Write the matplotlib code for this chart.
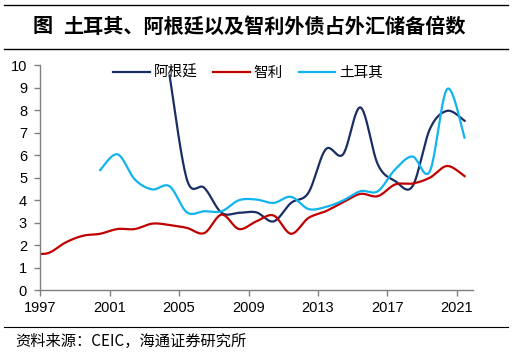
import numpy as np
import matplotlib.pyplot as plt

plt.rcParams['font.family'] = ['Liberation Sans', 'Noto Sans CJK SC', 'DejaVu Sans']

# annual data, plotted a little after the year tick
years_chile = list(range(1996, 2022))
chile = [1.65, 1.66, 2.13, 2.43, 2.52, 2.73, 2.73, 2.97, 2.91, 2.78, 2.55, 3.37, 2.73,
         3.07, 3.33, 2.52, 3.22, 3.52, 3.92, 4.29, 4.19, 4.71, 4.75, 5.01, 5.53, 5.08]

years_turkey = list(range(2000, 2022))
turkey = [5.35, 6.05, 4.93, 4.49, 4.63, 3.47, 3.52, 3.52, 4.01, 4.04, 3.89, 4.16,
          3.62, 3.71, 4.00, 4.41, 4.41, 5.38, 5.95, 5.30, 8.95, 6.79]

years_arg = list(range(2004, 2022))
argentina = [9.55, 4.93, 4.56, 3.45, 3.45, 3.47, 3.07, 3.89, 4.34, 6.27, 6.05, 8.13,
             5.60, 4.86, 4.63, 7.17, 7.98, 7.54]

xticks = list(range(1997, 2022, 4))
offset = 0.45


def smooth(xs, ys, n=24):
    # bezier smoothing through the points, like excel's smoothed line
    xs = np.asarray(xs, float)
    ys = np.asarray(ys, float)
    px, py = [], []
    for i in range(len(xs) - 1):
        i0 = max(i - 1, 0)
        i3 = min(i + 2, len(xs) - 1)
        c1x = xs[i] + (xs[i + 1] - xs[i0]) / 6
        c1y = ys[i] + (ys[i + 1] - ys[i0]) / 6
        c2x = xs[i + 1] - (xs[i3] - xs[i]) / 6
        c2y = ys[i + 1] - (ys[i3] - ys[i]) / 6
        t = np.linspace(0, 1, n)
        a, b, c, d = (1 - t) ** 3, 3 * (1 - t) ** 2 * t, 3 * (1 - t) * t ** 2, t ** 3
        px.extend(a * xs[i] + b * c1x + c * c2x + d * xs[i + 1])
        py.extend(a * ys[i] + b * c1y + c * c2y + d * ys[i + 1])
    return px, py


fig = plt.figure(figsize=(5.28, 3.61), dpi=100)
ax = fig.add_axes([0.0763, 0.1953, 0.8190, 0.6237])

series = [(years_arg, argentina, '#1B2E63', '阿根廷'),
          (years_chile, chile, '#C00000', '智利'),
          (years_turkey, turkey, '#12B4EE', '土耳其')]
for yrs, vals, col, name in series:
    sx, sy = smooth(np.array(yrs) + offset, vals)
    ax.plot(sx, sy, color=col, lw=1.6, label=name)

ax.set_xlim(1997, 2021.92)
ax.set_ylim(0, 10)
ax.set_xticks(xticks)
ax.set_yticks(range(0, 11))
for s in ['top', 'right']:
    ax.spines[s].set_visible(False)
for s in ['left', 'bottom']:
    ax.spines[s].set_color('#808080')
    ax.spines[s].set_linewidth(1)
ax.tick_params(axis='both', colors='#808080', labelcolor='black', labelsize=10.5,
               length=4.5, width=1)
ax.tick_params(axis='y', pad=5)
ax.tick_params(axis='x', pad=3)

leg = ax.legend(loc='center', bbox_to_anchor=(0.470, 0.798), bbox_transform=fig.transFigure,
                ncol=3, frameon=False, handlelength=2.5,
                handletextpad=0.25, columnspacing=1.1, borderpad=0,
                prop={'family': ['Noto Sans CJK SC'], 'size': 10.5})

# title block and rules
fig.add_artist(plt.Line2D([4 / 528, 508 / 528], [1 - 5 / 361, 1 - 5 / 361], color='black', lw=1))
fig.add_artist(plt.Line2D([4 / 528, 508 / 528], [1 - 48.5 / 361, 1 - 48.5 / 361], color='black', lw=1))
fig.add_artist(plt.Line2D([4 / 528, 508 / 528], [1 - 327 / 361, 1 - 327 / 361], color='black', lw=0.8))
fig.text(33 / 528, 1 - 26 / 361, '图', ha='left', va='center',
         fontsize=14.5, fontweight='bold', family=['Noto Sans CJK SC'])
fig.text(63 / 528, 1 - 26 / 361, '土耳其、阿根廷以及智利外债占外汇储备倍数', ha='left', va='center',
         fontsize=14.5, fontweight='bold', family=['Noto Sans CJK SC'])
fig.text(15 / 528, 1 - 341.5 / 361, '资料来源：CEIC，海通证券研究所', ha='left', va='center',
         fontsize=11, family=['Noto Sans CJK SC'])

fig.savefig('out.png', dpi=100)
